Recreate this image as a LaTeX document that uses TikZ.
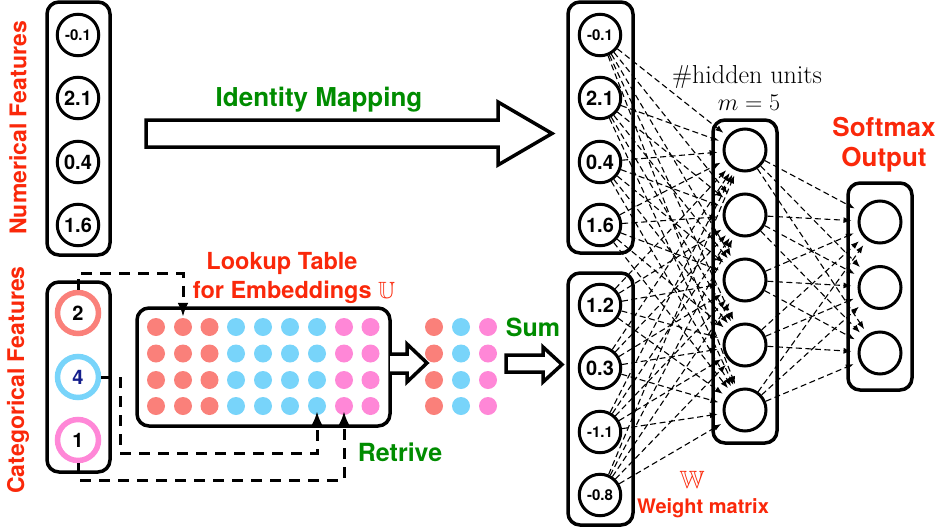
\documentclass[tikz,border=0pt]{standalone}
\usepackage{fix-cm}
\usepackage{amssymb}
\usepackage{fontspec}
\setsansfont{TeX Gyre Heros}
\usetikzlibrary{arrows.meta}
\definecolor{myred}{RGB}{250,40,10}
\definecolor{mygreen}{RGB}{0,140,0}
\definecolor{salmon}{RGB}{250,128,122}
\definecolor{skyb}{RGB}{120,212,250}
\definecolor{pinkc}{RGB}{255,135,215}
\definecolor{navyc}{RGB}{20,30,140}
\begin{document}
\begin{tikzpicture}[x=1pt,y=-1pt,
  box/.style={draw, line width=3.5pt, rounded corners=12pt},
  numc/.style={circle, draw, fill=white, line width=3pt, minimum size=41.5pt, inner sep=0pt,
    font=\sffamily\bfseries\fontsize{20}{20}\selectfont},
  negc/.style={numc, font=\sffamily\bfseries\fontsize{15}{15}\selectfont},
  catc/.style={circle, draw=#1, fill=white, line width=5.5pt, minimum size=41pt, inner sep=0pt,
    font=\sffamily\bfseries\fontsize{20}{20}\selectfont},
  hid/.style={circle, draw, fill=white, line width=3pt, minimum size=42pt, inner sep=0pt},
  dotc/.style={circle, fill=#1, minimum size=18pt, inner sep=0pt},
  lookconn/.style={line width=3pt, dash pattern=on 11pt off 8pt, -{Latex[length=14pt,width=11pt]}},
  edge/.style={line width=1.1pt, dash pattern=on 6pt off 3.5pt, -{Latex[length=8pt,width=6pt]}, shorten >=5pt},
  hollow/.style={draw, line width=3.5pt, fill=white, line join=miter},
  redlab/.style={text=myred, font=\sffamily\bfseries\fontsize{23}{29}\selectfont, align=center},
  greenlab/.style={text=mygreen, font=\sffamily\bfseries\fontsize{25}{25}\selectfont},
  serlab/.style={font=\fontsize{26}{26}\selectfont}
]
\useasboundingbox (0,0) rectangle (938,528);

% ---------- left: numerical features ----------
\draw[box] (47,2) rectangle (110,255);
\node[negc] (n1) at (78,35) {-0.1};
\node[numc] (n2) at (78,98) {2.1};
\node[numc] (n3) at (78,162) {0.4};
\node[numc] (n4) at (78,225) {1.6};
\node[redlab, rotate=90] (numlab) at (18,128) {Numerical Features};

% ---------- left: categorical features ----------
\draw[box] (47,282) rectangle (110,472);
\node[catc=salmon] (c1) at (78,313) {2};
\node[catc=skyb, text=navyc] (c2) at (78,377) {4};
\node[catc=pinkc] (c3) at (78,440) {1};
\node[redlab, rotate=90] (catlab) at (18,380) {Categorical Features};

% ---------- identity mapping arrow ----------
\draw[hollow] (146,120) -- (498,120) -- (498,102) -- (552,133.5) -- (498,165) -- (498,147) -- (146,147) -- cycle;
\node[greenlab, font=\sffamily\bfseries\fontsize{26}{26}\selectfont] (idlab) at (319,100) {Identity Mapping};

% ---------- lookup table ----------
\draw[box] (137,308) rectangle (390,426);
\foreach \r/\yy in {1/327,2/353.5,3/380,4/406}{
  \foreach \c/\xx/\col in {1/156/salmon,2/183/salmon,3/209.5/salmon,4/236/skyb,5/263/skyb,6/290/skyb,7/317/skyb,8/344/pinkc,9/370.5/pinkc}{
    \node[dotc=\col] (d-\r-\c) at (\xx,\yy) {};
  }
  \foreach \c/\xx/\col in {1/434/salmon,2/461/skyb,3/488/pinkc}{
    \node[dotc=\col] (s-\r-\c) at (\xx,\yy) {};
  }
}
\node[redlab, font=\sffamily\bfseries\fontsize{23.5}{29}\selectfont] (looklab1) at (282,263) {Lookup Table};
\node[redlab, font=\sffamily\bfseries\fontsize{23.5}{29}\selectfont] (looklab2) at (294,292) {for Embeddings $\mathbb{U}$};

\draw[hollow] (390,354) -- (407,354) -- (407,344) -- (427,363) -- (407,382) -- (407,373) -- (390,373);
\draw[hollow] (506,355) -- (543,355) -- (543,347) -- (562,364.5) -- (543,382) -- (543,372) -- (506,372) -- cycle;
\node[greenlab] (sumlab) at (533,327) {Sum};
\node[greenlab] (retlab) at (400,452) {Retrive};

% ---------- lookup connectors ----------
\draw[lookconn, shorten >=1pt] (c1.north) -- ++(0,-16) -| (d-1-2.north);
\draw[lookconn, shorten >=-4pt] (c2.east) -- (120,377) -- (120,453) -| (d-4-7.south);
\draw[lookconn, shorten >=-4pt] (c3.south) -- (78,480) -| (d-4-8.south);

% ---------- network ----------
\draw[box] (568,2) rectangle (633,253);
\draw[box] (568,273) rectangle (633,525);
\draw[box] (713,120) rectangle (777,443);
\draw[box] (848,183) rectangle (912,390);

\node[negc] (i1) at (600,35) {-0.1};
\node[numc] (i2) at (600,98) {2.1};
\node[numc] (i3) at (600,162) {0.4};
\node[numc] (i4) at (600,225) {1.6};
\node[numc] (i5) at (600,305) {1.2};
\node[numc] (i6) at (600,368) {0.3};
\node[negc] (i7) at (600,432) {-1.1};
\node[negc] (i8) at (600,495) {-0.8};

\foreach \j/\yy in {1/150,2/215,3/280,4/345,5/410}{
  \node[hid] (h\j) at (745,\yy) {};
}
\foreach \k/\yy in {1/222,2/287.5,3/353}{
  \node[hid] (o\k) at (880,\yy) {};
}

\foreach \i in {1,...,8}{
  \foreach \j in {1,...,5}{
    \draw[edge] (i\i) -- (h\j);
  }
}
\foreach \j in {1,...,5}{
  \foreach \k in {1,2,3}{
    \draw[edge, shorten >=6pt] (h\j) -- (o\k);
  }
}

\node[serlab] (hidlab) at (747,77) {\#hidden units};
\node[serlab, font=\fontsize{24}{24}\selectfont] (mlab) at (749,103) {$m=5$};
\node[redlab, font=\sffamily\bfseries\fontsize{26}{30}\selectfont] (smlab) at (884,145) {Softmax\\Output};
\node[text=myred, font=\fontsize{25}{25}\selectfont] (wlab) at (692,480) {$\mathbb{W}$};
\node[text=myred, font=\sffamily\bfseries\fontsize{20}{20}\selectfont] (wmlab) at (703,508) {Weight matrix};
\end{tikzpicture}
\end{document}
